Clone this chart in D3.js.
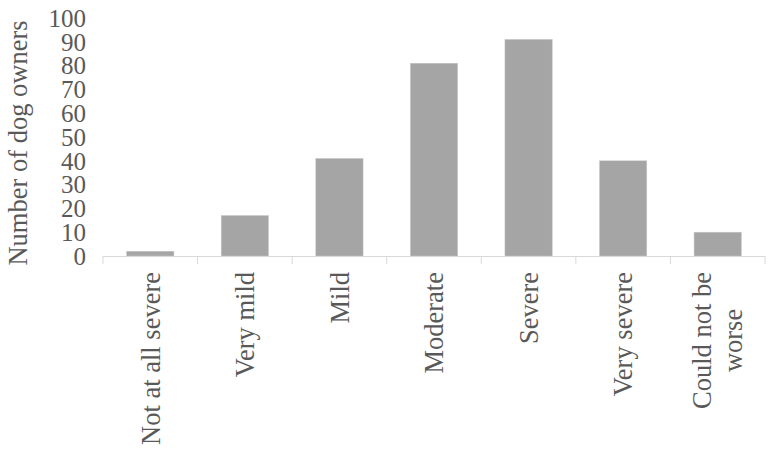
<!DOCTYPE html>
<html>
<head>
<meta charset="utf-8">
<script src="https://cdn.jsdelivr.net/npm/d3@7"></script>
<style>
  body { margin: 0; background: #fff; }
  text { font-family: "Liberation Serif", "Times New Roman", serif; fill: #595959; }
</style>
</head>
<body>
<div id="chart"></div>
<script>
var width = 770;
var height = 454;

// datos del grafico
var categories = ["Not at all severe", "Very mild", "Mild", "Moderate", "Severe", "Very severe", "Could not be worse"];
var owners = [2, 17, 41, 81, 91, 40, 10];
var yTicks = [0, 10, 20, 30, 40, 50, 60, 70, 80, 90, 100];
// etiquetas partidas en lineas como en el original
var labelLines = [["Not at all severe"], ["Very mild"], ["Mild"], ["Moderate"], ["Severe"], ["Very severe"], ["Could not be", "worse"]];

var margin = { top: 18, right: 5, bottom: 198, left: 103 };
var fontSize = 26.5;
var tickFontSize = 25;

var x = d3.scaleBand()
    .domain(categories)
    .range([margin.left, width - margin.right])
    .paddingInner(0.5)
    .paddingOuter(0.25);

var y = d3.scaleLinear()
    .domain([0, 100])
    .range([height - margin.bottom, margin.top]);

var svg = d3.select("#chart")
    .append("svg")
    .attr("width", width)
    .attr("height", height);

// barras
svg.selectAll(".bar")
    .data(owners)
    .enter()
    .append("rect")
    .attr("class", "bar")
    .attr("x", (d, i) => x(categories[i]))
    .attr("y", (d) => y(d))
    .attr("width", x.bandwidth())
    .attr("height", (d) => y(0) - y(d))
    .attr("fill", "#a5a5a5")
    .attr("stroke", "#c8c8c8")
    .attr("stroke-width", 0.5);

// eje x: linea y marcas entre categorias
var bounds = d3.range(categories.length + 1).map((i) => margin.left + i * (width - margin.right - margin.left) / categories.length);

svg.append("line")
    .attr("x1", bounds[0])
    .attr("x2", bounds[bounds.length - 1])
    .attr("y1", y(0) + 0.5)
    .attr("y2", y(0) + 0.5)
    .attr("stroke", "#d9d9d9")
    .attr("stroke-width", 1);

svg.selectAll(".xtick")
    .data(bounds)
    .enter()
    .append("line")
    .attr("class", "xtick")
    .attr("x1", (d) => d)
    .attr("x2", (d) => d)
    .attr("y1", y(0))
    .attr("y2", y(0) + 8)
    .attr("stroke", "#d9d9d9")
    .attr("stroke-width", 1);

// etiquetas del eje x, rotadas
var labelTop = y(0) + 16;
var lineGap = 31;
categories.forEach(function (c, i) {
    var lines = labelLines[i];
    var cx = x(c) + x.bandwidth() / 2;
    var g = svg.append("g");
    var texts = lines.map(function (ln) {
        return g.append("text")
            .attr("font-size", fontSize)
            .text(ln);
    });
    var maxLen = d3.max(texts, (t) => t.node().getComputedTextLength());
    var cy = labelTop + maxLen / 2;
    texts.forEach(function (t, j) {
        var off = (j - (lines.length - 1) / 2) * lineGap;
        t.attr("text-anchor", "middle")
            .attr("dy", "0.35em")
            .attr("transform", "translate(" + (cx + off) + "," + cy + ") rotate(-90)");
    });
});

// eje y: solo etiquetas
svg.selectAll(".ytick")
    .data(yTicks)
    .enter()
    .append("text")
    .attr("class", "ytick")
    .attr("x", 86)
    .attr("y", (d) => y(d))
    .attr("dy", "0.35em")
    .attr("text-anchor", "end")
    .attr("font-size", tickFontSize)
    .text((d) => d);

// titulo del eje y
svg.append("text")
    .attr("transform", "translate(18,143) rotate(-90)")
    .attr("text-anchor", "middle")
    .attr("dy", "0.35em")
    .attr("font-size", fontSize)
    .text("Number of dog owners");
</script>
</body>
</html>
